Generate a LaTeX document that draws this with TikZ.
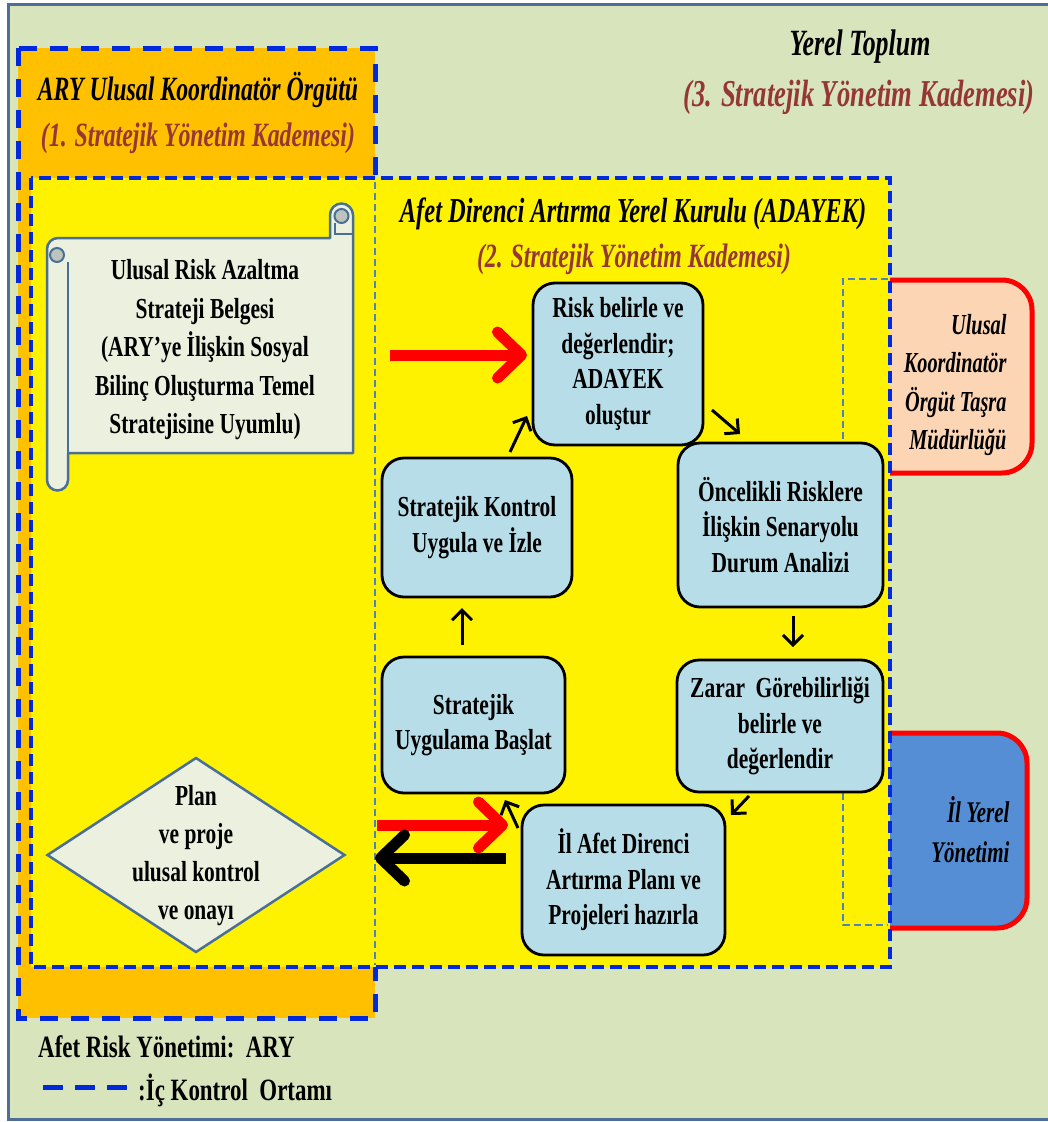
\documentclass[tikz,border=0pt]{standalone}
\usepackage{fontspec}
\usetikzlibrary{arrows.meta,shapes.geometric}
\newfontfamily\boxfont[FakeStretch=0.74]{Liberation Serif}
\newfontfamily\headfont[FakeStretch=0.70]{Liberation Serif}
\newcommand\boxtxt{\boxfont\bfseries\fontsize{29}{35.5}\selectfont}
\newcommand\headtxt[1]{\headfont\bfseries\itshape\fontsize{#1}{#1}\selectfont}

\definecolor{bggreen}{RGB}{216,228,188}
\definecolor{frameblue}{RGB}{79,109,150}
\definecolor{orgorange}{RGB}{255,192,0}
\definecolor{dashblue}{RGB}{0,40,220}
\definecolor{thinblue}{RGB}{79,129,189}
\definecolor{boxblue}{RGB}{183,222,232}
\definecolor{paper}{RGB}{235,241,222}
\definecolor{paperedge}{RGB}{74,111,150}
\definecolor{rollgrey}{RGB}{190,195,190}
\definecolor{levelred}{RGB}{149,55,53}
\definecolor{peach}{RGB}{252,213,181}
\definecolor{localblue}{RGB}{85,142,213}

\begin{document}
\begin{tikzpicture}[x=1pt,y=-1pt,
  stepbox/.style={draw=black, line width=2.8pt, fill=boxblue, rounded corners=22pt,
    inner sep=2pt, align=center, font=\boxtxt},
  sidebox/.style={draw=red, line width=5pt, rounded corners=30pt},
  sidetext/.style={align=right, anchor=east, font={\headtxt{29}\baselineskip=38.5pt}},
  bigdash/.style={draw=dashblue, line width=5pt, dash pattern=on 18pt off 13pt},
  paneldash/.style={draw=dashblue, line width=4pt, dash pattern=on 12pt off 6pt},
  thindash/.style={draw=thinblue, line width=1.6pt, dash pattern=on 7pt off 4pt},
  bigarrow/.style={line width=11pt, -{Straight Barb[length=24pt,width=46pt,round]}},
  flowarrow/.style={draw=black, line width=3pt, -{Straight Barb[length=10pt,width=20pt]}},
  papertext/.style={align=center, font={\boxfont\bfseries\fontsize{29}{38.5}\selectfont}},
  levelhead/.style={anchor=base, font={\headtxt{34}}},
  levelsub/.style={anchor=base, text=levelred, font={\headtxt{34}}},
]
\useasboundingbox (0,0) rectangle (1048,1122);
\clip (0,0) rectangle (1048,1122);

% outer frame: local community
\draw[frameblue, line width=3pt, fill=bggreen] (8,4) rectangle (1055,1119);

% provincial offices, partly hidden behind the council panel
\node[sidebox, fill=peach, minimum width=182pt, minimum height=193pt] (tasra) at (941,376.5) {};
\node[sidebox, fill=localblue, minimum width=177pt, minimum height=195pt] (yerel) at (938.5,830.5) {};

% national coordinator panel
\fill[orgorange] (18,48) rectangle (375,1018);
\draw[bigdash] (18,48) rectangle (375,1018);

% local council panel
\fill[yellow] (31,178) rectangle (890,967);
\draw[paneldash] (31,178) rectangle (890,967);

% thin dashed guides
\draw[thindash] (375,182) -- (375,965);
\draw[thindash] (888,279) -- (843,279) -- (843,443);
\draw[thindash] (843,793) -- (843,925) -- (888,925);

% strategy document scroll
\draw[paperedge, line width=2.5pt, fill=paper, line join=round]
  (47,249) arc[start angle=180, end angle=270, radius=11]
  -- (330,238) -- (330,215) arc[start angle=180, end angle=360, radius=11.5]
  -- (353,453) -- (68,453) -- (68,480) arc[start angle=0, end angle=180, radius=10.5]
  -- cycle;
\draw[paperedge, line width=2.5pt] (68,262) -- (68,453);
\draw[paperedge, line width=2pt, fill=rollgrey] (57,255) circle[radius=7];
\draw[paperedge, line width=2pt, fill=rollgrey] (341.5,216) circle[radius=7];
\draw[paperedge, line width=2pt] (335,223) -- (335,234) -- (353,234);
\node[papertext] (scroll) at (205,350)
  {Ulusal Risk Azaltma\\Strateji Belgesi\\(ARY’ye İlişkin Sosyal\\Bilinç Oluşturma Temel\\Stratejisine Uyumlu)};

% national approval
\node[diamond, draw=paperedge, line width=2.5pt, fill=paper, minimum width=298pt,
  minimum height=195pt, inner sep=0pt] (onay) at (196,855) {};
\node[papertext, font={\boxfont\bfseries\fontsize{29}{38}\selectfont}] (onaytext) at (196,856)
  {Plan\\ve proje\\ulusal kontrol\\ve onayı};

% process steps
\node[stepbox, minimum width=170pt, minimum height=162pt] (risk) at (618,364)
  {Risk belirle ve\\değerlendir;\\ADAYEK\\oluştur};
\node[stepbox, minimum width=205pt, minimum height=164pt] (senaryo) at (780.5,525)
  {Öncelikli Risklere\\İlişkin Senaryolu\\Durum Analizi};
\node[stepbox, minimum width=206pt, minimum height=132pt] (zarar) at (780,726)
  {Zarar\ \ Görebilirliği\\belirle ve\\değerlendir};
\node[stepbox, minimum width=203pt, minimum height=150pt] (plan) at (623.5,880)
  {İl Afet Direnci\\Artırma Planı ve\\Projeleri hazırla};
\node[stepbox, minimum width=183pt, minimum height=136pt] (uygulama) at (473.5,725)
  {Stratejik\\Uygulama Başlat};
\node[stepbox, minimum width=190pt, minimum height=139pt] (kontrol) at (477,527.5)
  {Stratejik Kontrol\\Uygula ve İzle};

% cycle arrows
\coordinate (c1a) at (712,410); \coordinate (c1b) at (740,434);
\coordinate (c2a) at (793,616); \coordinate (c2b) at (793,647);
\coordinate (c3a) at (749,796); \coordinate (c3b) at (731,815);
\coordinate (c4a) at (518,828); \coordinate (c4b) at (505,800);
\coordinate (c5a) at (462,645); \coordinate (c5b) at (462,608);
\coordinate (c6a) at (510,452); \coordinate (c6b) at (527,416);
\draw[flowarrow] (c1a) -- (c1b);
\draw[flowarrow] (c2a) -- (c2b);
\draw[flowarrow] (c3a) -- (c3b);
\draw[flowarrow] (c4a) -- (c4b);
\draw[flowarrow] (c5a) -- (c5b);
\draw[flowarrow] (c6a) -- (c6b);

% flows between the panels
\coordinate (in1a) at (390,355);  \coordinate (in1b) at (527,355);
\coordinate (in2a) at (377,825);  \coordinate (in2b) at (508,825);
\coordinate (out1a) at (506,858); \coordinate (out1b) at (375,858);
\draw[bigarrow, red] (in1a) -- (in1b);
\draw[bigarrow, red] (in2a) -- (in2b);
\draw[bigarrow, black] (out1a) -- (out1b);

% office labels
\node[sidetext] (tasratext) at (1010,385) {Ulusal\\Koordinatör\\Örgüt Taşra\\Müdürlüğü};
\node[sidetext, font={\headtxt{30}\baselineskip=40pt}] (yereltext) at (1013,830) {İl Yerel\\Yönetimi};

% level headings
\node[levelhead, font={\headtxt{37}}] (toplum) at (860,55) {Yerel Toplum};
\node[levelsub, font={\headtxt{38}}] (toplumsub) at (859,106) {(3. Stratejik Yönetim Kademesi)};
\node[levelhead] (orgut) at (198,100) {ARY Ulusal Koordinatör Örgütü};
\node[levelsub] (orgutsub) at (198,146) {(1. Stratejik Yönetim Kademesi)};
\node[levelhead, font={\headtxt{35}}] (kurul) at (633,222) {Afet Direnci Artırma Yerel Kurulu (ADAYEK)};
\node[levelsub] (kurulsub) at (634,267) {(2. Stratejik Yönetim Kademesi)};

% legend
\node[anchor=west, inner sep=0pt, font={\boxfont\bfseries\fontsize{31}{31}\selectfont}] (legary) at (38,1047)
  {Afet Risk Yönetimi:\ \ ARY};
\coordinate (lega) at (43,1087); \coordinate (legb) at (127,1087);
\draw[draw=dashblue, line width=5pt, dash pattern=on 20pt off 12pt] (lega) -- (legb);
\node[anchor=west, inner sep=0pt, font={\boxfont\bfseries\fontsize{31}{31}\selectfont}] (legic) at (138,1090)
  {:İç Kontrol\ \ Ortamı};
\end{tikzpicture}
\end{document}
